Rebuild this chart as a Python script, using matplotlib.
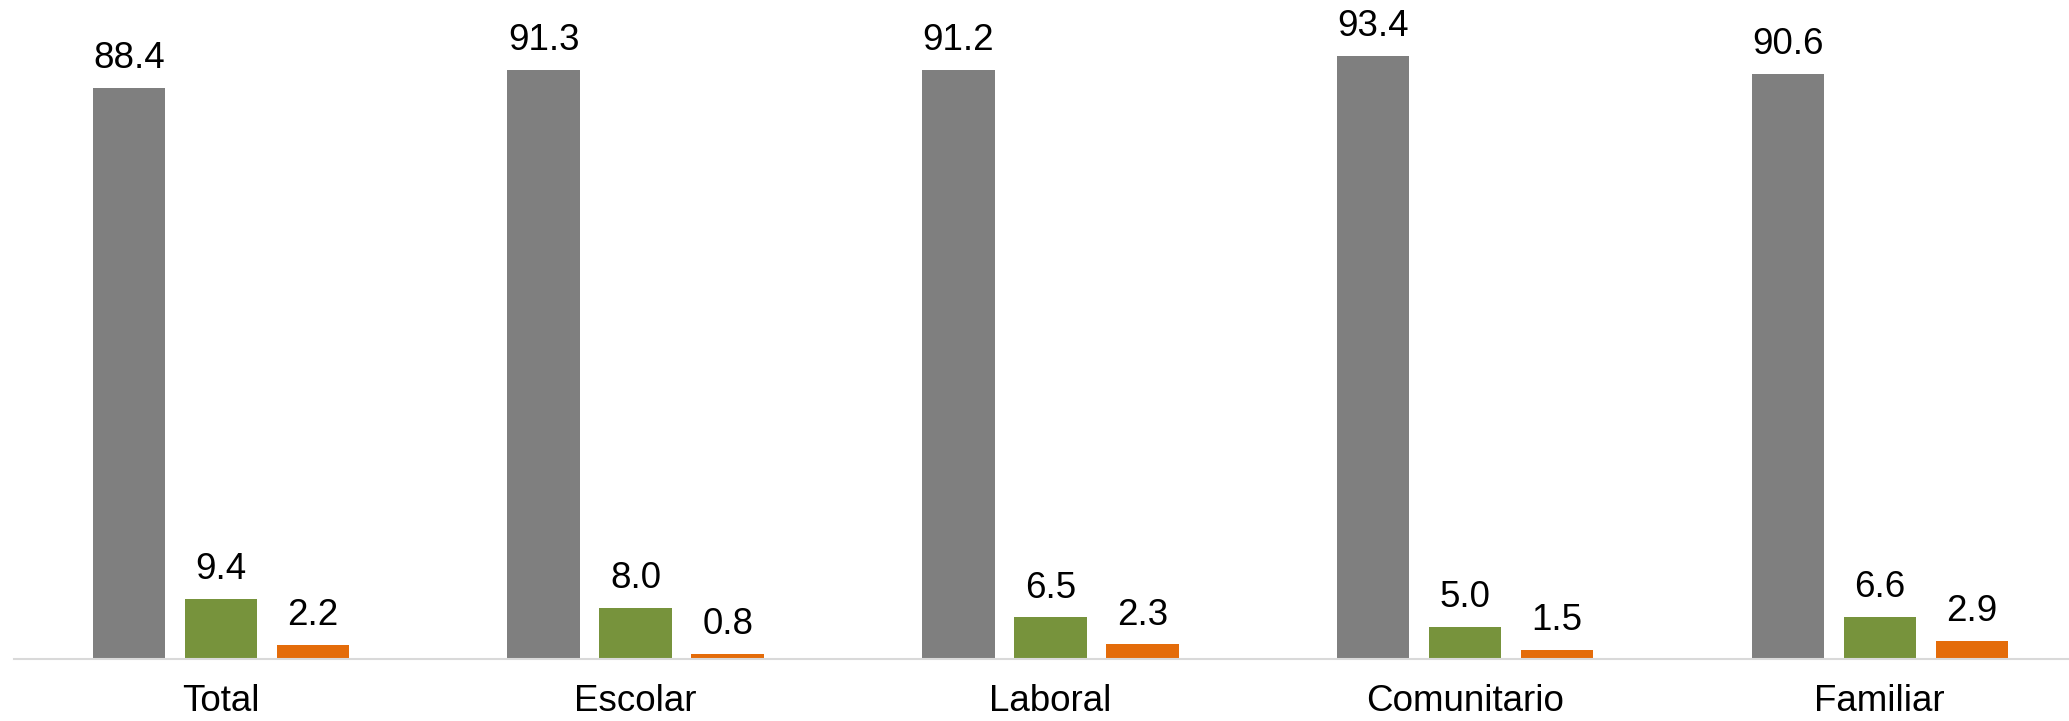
import matplotlib
matplotlib.use("Agg")
import matplotlib.pyplot as plt
import numpy as np

categories = ["Total", "Escolar", "Laboral", "Comunitario", "Familiar"]
serie_gris = [88.4, 91.3, 91.2, 93.4, 90.6]
serie_verde = [9.4, 8.0, 6.5, 5.0, 6.6]
serie_naranja = [2.2, 0.8, 2.3, 1.5, 2.9]

plt.rcParams['font.family'] = ['Liberation Sans', 'DejaVu Sans']

W, H = 2069, 721
fig = plt.figure(figsize=(W / 100, H / 100), dpi=100)
left_px = 13.6
axis_y_px = 659.3
px_per_unit = 6.46
ymax = 100
ax = fig.add_axes([left_px / W, (H - axis_y_px) / H, 1 - left_px / W, ymax * px_per_unit / H])

cat_px = 414.7
x_right = (W - left_px) / cat_px - 0.5
ax.set_xlim(-0.5, x_right)
ax.set_ylim(0, ymax)

x = np.arange(len(categories))
bw = 72.5 / cat_px
pitch = 92.0 / cat_px
series = [(serie_gris, "#7F7F7F"), (serie_verde, "#77933C"), (serie_naranja, "#E46C0A")]
for i, (vals, col) in enumerate(series):
    pos = x + (i - 1) * pitch
    bars = ax.bar(pos, vals, width=bw, color=col, zorder=2)
    for b, v in zip(bars, vals):
        ax.annotate(f"{v:.1f}", (b.get_x() + b.get_width() / 2, v),
                    xytext=(0, 8.5), textcoords="offset points",
                    ha="center", va="bottom", fontsize=26.5, color="black")

for s in ["top", "right", "left"]:
    ax.spines[s].set_visible(False)
ax.spines["bottom"].set_color("#D9D9D9")
ax.spines["bottom"].set_linewidth(1.5)
ax.set_yticks([])
ax.set_xticks(x)
ax.set_xticklabels(categories, fontsize=26.5)
ax.tick_params(axis="x", length=0, pad=18)

fig.savefig("out.png", dpi=100)
